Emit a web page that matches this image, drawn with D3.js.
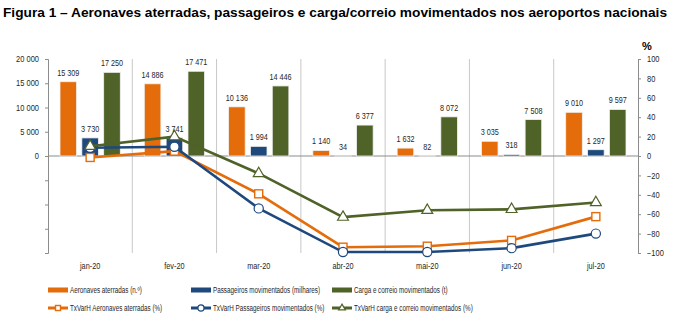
<!DOCTYPE html>
<html>
<head>
<meta charset="utf-8">
<script src="https://cdn.jsdelivr.net/npm/d3@7"></script>
<style>
  html, body { margin: 0; padding: 0; background: #fff; }
  svg { display: block; }
  text { font-family: "Liberation Sans", Arial, sans-serif; fill: #262626; }
</style>
</head>
<body>
<svg id="chart" width="680" height="331"></svg>
<script>
// Months (2020)
const categories = ["jan-20", "fev-20", "mar-20", "abr-20", "mai-20", "jun-20", "jul-20"];

// Absolute values (left axis)
const aeronaves = [15309, 14886, 10136, 1140, 1632, 3035, 9010];
const passageiros = [3730, 3741, 1994, 34, 82, 318, 1297];
const carga = [17250, 17471, 14446, 6377, 8072, 7508, 9597];

// Year-on-year change, % (right axis)
const txAeronaves = [-1.5, 5, -39, -94, -93, -87, -62.5];
const txPassageiros = [8.5, 9.5, -54, -99, -99, -95, -80];
const txCarga = [10, 20, -18, -63, -56, -55, -48];

const leftTicks = [0, 5000, 10000, 15000, 20000];
const leftMinorTicks = [-20000, -15000, -10000, -5000];
const rightTicks = [100, 80, 60, 40, 20, 0, -20, -40, -60, -80, -100];

const titleText = "Figura 1 \u2013 Aeronaves aterradas, passageiros e carga/correio movimentados nos aeroportos nacionais";

const colors = { orange: "#E46C0A", blue: "#1F497D", green: "#4F6228" };

const svg = d3.select("#chart");
const fmt = v => d3.format(",")(v).replace(/,/g, " ");

// Narrow the glyphs of a text selection to a fraction of their natural width
function condense(sel, k) {
  sel.each(function () {
    const w = this.getComputedTextLength();
    if (w > 0) {
      d3.select(this).attr("textLength", w * k).attr("lengthAdjust", "spacingAndGlyphs");
    }
  });
}

const plot = { left: 48, right: 638, top: 59, bottom: 253 };

const x = d3.scaleBand().domain(categories).range([plot.left, plot.right]).padding(0);
const yL = d3.scaleLinear().domain([-20000, 20000]).range([plot.bottom, plot.top]);
const yR = d3.scaleLinear().domain([-100, 100]).range([plot.bottom, plot.top]);

// Title
svg.append("text")
  .attr("x", 3).attr("y", 17)
  .style("font-size", "13px").style("font-weight", "bold").style("fill", "#000")
  .text(titleText)
  .each(function () {
    const w = this.getComputedTextLength();
    if (w < 664) d3.select(this).attr("textLength", 664).attr("lengthAdjust", "spacingAndGlyphs");
  });

// Category separators
svg.append("g").selectAll("line")
  .data(categories.slice(1))
  .join("line")
  .attr("x1", d => x(d)).attr("x2", d => x(d))
  .attr("y1", plot.top).attr("y2", plot.bottom)
  .attr("stroke", "#c8c8c8").attr("stroke-width", 1);

// Left axis
const gL = svg.append("g").attr("transform", `translate(${plot.left},0)`)
  .call(d3.axisLeft(yL).tickValues(leftTicks.concat(leftMinorTicks))
    .tickFormat(d => d >= 0 ? fmt(d) : "").tickSize(3).tickPadding(6));
gL.select(".domain").attr("stroke", "#8c8c8c");
gL.selectAll(".tick line").attr("stroke", "#8c8c8c");
gL.selectAll(".tick text").style("font-size", "8.5px").style("fill", "#262626")
  .style("font-family", '"Liberation Sans", Arial, sans-serif')
  .call(condense, 0.88);

// Right axis
const gR = svg.append("g").attr("transform", `translate(${plot.right},0)`)
  .call(d3.axisRight(yR).tickValues(rightTicks).tickSize(3).tickPadding(6));
gR.select(".domain").attr("stroke", "#8c8c8c");
gR.selectAll(".tick line").attr("stroke", "#8c8c8c");
gR.selectAll(".tick text").style("font-size", "8.5px").style("fill", "#262626")
  .style("font-family", '"Liberation Sans", Arial, sans-serif')
  .call(condense, 0.88);

svg.append("text").attr("x", 642).attr("y", 50)
  .style("font-size", "11px").style("font-weight", "bold").style("fill", "#000")
  .text("%");

// Zero line
svg.append("line")
  .attr("x1", plot.left).attr("x2", plot.right)
  .attr("y1", yL(0)).attr("y2", yL(0))
  .attr("stroke", "#8c8c8c").attr("stroke-width", 1.2);

// Category labels
svg.append("g").selectAll("text")
  .data(categories)
  .join("text")
  .attr("x", d => x(d) + x.bandwidth() / 2)
  .attr("y", 269)
  .attr("text-anchor", "middle")
  .style("font-size", "8.5px")
  .text(d => d)
  .call(condense, 0.86);

// Bars
const barSeries = [
  { name: "Aeronaves aterradas (n.º)", values: aeronaves, color: colors.orange },
  { name: "Passageiros movimentados (milhares)", values: passageiros, color: colors.blue },
  { name: "Carga e correio movimentados (t)", values: carga, color: colors.green }
];
const x1 = d3.scaleBand().domain(d3.range(barSeries.length)).range([12, x.bandwidth() - 12]).paddingInner(0.24);

barSeries.forEach((s, si) => {
  const g = svg.append("g");
  g.selectAll("rect")
    .data(s.values)
    .join("rect")
    .attr("x", (d, i) => x(categories[i]) + x1(si))
    .attr("y", d => yL(d))
    .attr("width", x1.bandwidth())
    .attr("height", d => yL(0) - yL(d))
    .attr("fill", s.color)
    .attr("stroke", "#f2f2f2").attr("stroke-width", 0.8);
});

// Line series
const lineSeries = [
  { name: "TxVarH Aeronaves aterradas (%)", values: txAeronaves, color: colors.orange, marker: "square" },
  { name: "TxVarH Passageiros movimentados (%)", values: txPassageiros, color: colors.blue, marker: "circle" },
  { name: "TxVarH carga e correio movimentados (%)", values: txCarga, color: colors.green, marker: "triangle" }
];
const cx = i => x(categories[i]) + x.bandwidth() / 2;
const line = d3.line().x((d, i) => cx(i)).y(d => yR(d));

function drawMarker(g, type, color, px, py, size) {
  if (type === "square") {
    g.append("rect").attr("x", px - size).attr("y", py - size)
      .attr("width", size * 2).attr("height", size * 2)
      .attr("fill", "#fff").attr("stroke", color).attr("stroke-width", 1.4);
  } else if (type === "circle") {
    g.append("circle").attr("cx", px).attr("cy", py).attr("r", size + 0.6)
      .attr("fill", "#fff").attr("stroke", color).attr("stroke-width", 1.2);
  } else {
    g.append("path")
      .attr("d", d3.symbol(d3.symbolTriangle, size * size * 3.2)())
      .attr("transform", `translate(${px},${py})`)
      .attr("fill", "#fff").attr("stroke", color).attr("stroke-width", 1.2);
  }
}

lineSeries.forEach(s => {
  const g = svg.append("g");
  g.append("path").datum(s.values)
    .attr("d", line).attr("fill", "none")
    .attr("stroke", s.color).attr("stroke-width", 2.6);
  s.values.forEach((v, i) => drawMarker(g, s.marker, s.color, cx(i), yR(v), 4));
});

// Bar value labels
barSeries.forEach((s, si) => {
  svg.append("g").selectAll("text")
    .data(s.values)
    .join("text")
    .attr("x", (d, i) => x(categories[i]) + x1(si) + x1.bandwidth() / 2)
    .attr("y", d => yL(d) - 6)
    .attr("text-anchor", "middle")
    .style("font-size", "8.5px")
    .text(d => fmt(d))
    .call(condense, 0.85);
});

// Legend
const legendCols = [48, 191, 332];
const legend = svg.append("g");
barSeries.forEach((s, i) => {
  legend.append("rect").attr("x", legendCols[i]).attr("y", 287.5)
    .attr("width", 20).attr("height", 5).attr("fill", s.color);
  legend.append("text").attr("x", legendCols[i] + 22).attr("y", 293)
    .style("font-size", "8.5px").text(s.name)
    .call(condense, 0.74);
});
lineSeries.forEach((s, i) => {
  const lx = legendCols[i];
  legend.append("line").attr("x1", lx).attr("x2", lx + 20)
    .attr("y1", 308).attr("y2", 308)
    .attr("stroke", s.color).attr("stroke-width", 3);
  drawMarker(legend, s.marker, s.color, lx + 10, 308, 2.5);
  legend.append("text").attr("x", lx + 22).attr("y", 311)
    .style("font-size", "8.5px").text(s.name)
    .call(condense, 0.74);
});
</script>
</body>
</html>
